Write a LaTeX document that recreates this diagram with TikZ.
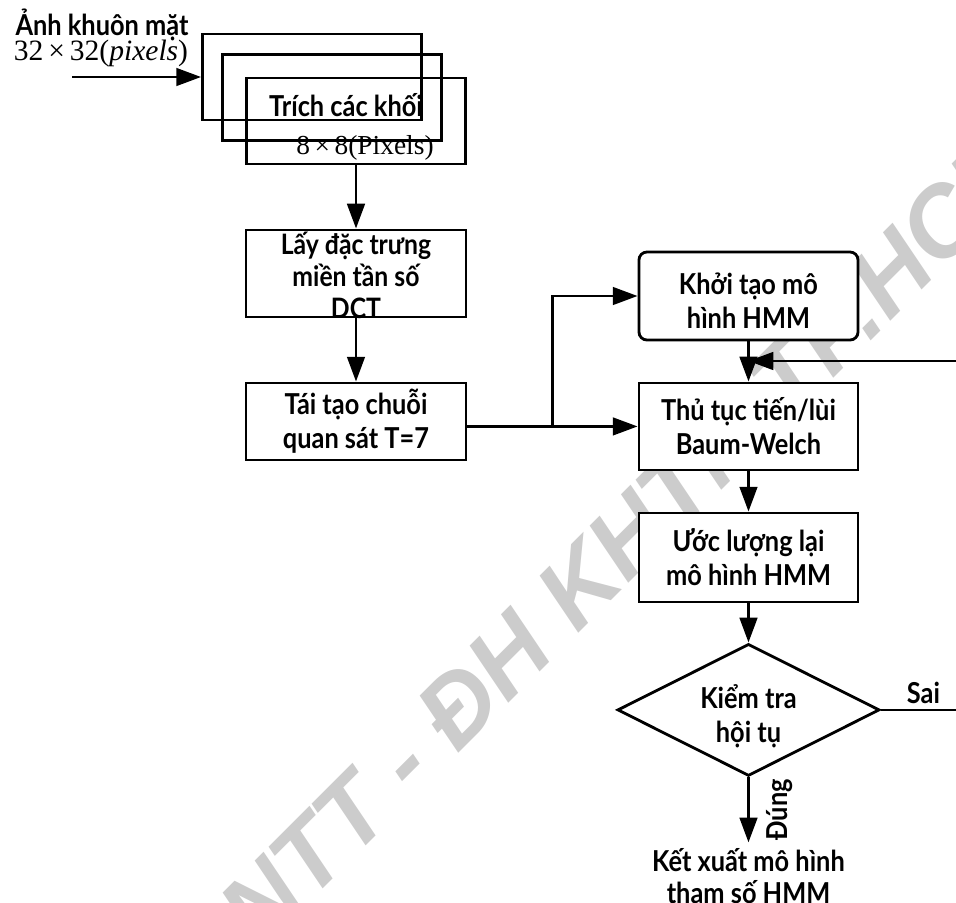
\documentclass[tikz,border=0pt]{standalone}
\usepackage{fontspec}
\setmainfont{Liberation Serif}
\newfontfamily\hmmfont[FakeStretch=0.88]{Lato}
\newfontfamily\wmfont{Liberation Sans}
\usetikzlibrary{arrows.meta,shapes.geometric,positioning}

\begin{document}
\begin{tikzpicture}[x=0.025cm,y=-0.025cm,
    font=\hmmfont\bfseries\fontsize{20.5}{24}\selectfont,
    line width=2pt,
    >={Triangle[length=0.62cm,width=0.44cm]},
    node distance=3.7cm,
    blk/.style={draw,minimum width=5.475cm,minimum height=2.15cm,inner sep=0pt},
    box/.style={draw,fill=white,align=center,inner sep=0pt,
      minimum width=5.5cm,minimum height=2.175cm},
    serif/.style={font=\rmfamily\fontsize{21}{24}\selectfont},
    wm/.style={text=black!20,font=\wmfont\bfseries\itshape\fontsize{70}{74}\selectfont}]
      \useasboundingbox (0,0) rectangle (956,903);
      \node[wm,rotate=45,anchor=base west] (w) at (256,956) {NTT - ĐH KHTN TP.HCM};

      % input image and the stacked 8x8 blocks
      \node (a) at (102,25) {Ảnh khuôn mặt};
      \node[serif] (b) at (101,53) {32\,×\,32(\textit{pixels})};
      \coordinate (0) at (72,77);
      \node[blk] (1) at (312,77) {};
      \node[blk] (2) at (332,97.5) {};
      \node[blk] (3) at (356,121) {};
      \node (c) at (346,105) {Trích các khối};
      \node[serif,font=\rmfamily\fontsize{19.5}{22}\selectfont] (d) at (365,148) {8\,×\,8(Pixels)};

      \node[box,below of=3,yshift=-0.11cm] (4) {};
      \node[align=center,font=\hmmfont\bfseries\fontsize{20}{22.5}\selectfont] (4t) at ([yshift=-0.05cm]4.center) {Lấy đặc trưng\\miền tần số\\DCT};
      \node[box,below of=4,minimum height=1.925cm] (5) {Tái tạo chuỗi\\quan sát T=7};

      % training loop
      \node[box,rounded corners=0.2cm,minimum width=5.475cm,minimum height=2.2cm] (6) at (748.5,296) {};
      \node[align=center] (6t) at ([yshift=-0.12cm]6.center) {Khởi tạo mô\\hình HMM};
      \node[box,below of=6,yshift=0.44cm,minimum width=5.475cm] (7) {Thủ tục tiến/lùi\\Baum-Welch};
      \node[box,below of=7,yshift=0.425cm,minimum width=5.475cm,minimum height=2.225cm] (8) {Ước lượng lại\\mô hình HMM};
      \node[draw,fill=white,diamond,aspect=2,align=center,inner sep=0pt,
        minimum width=6.55cm,minimum height=3.3cm,below of=8,yshift=-0.11cm] (9) {};
      \node[align=center] (9t) at ([yshift=-0.15cm]9.center) {Kiểm tra\\hội tụ};
      \node[align=center,below of=9,yshift=-0.45cm,font=\hmmfont\bfseries\fontsize{20.5}{22.5}\selectfont] (10) {Kết xuất mô hình\\tham số HMM};

      \coordinate (12) at (966,361);
      \coordinate (13) at (6.south |- 12);

      \draw[->] (0) -- (1);
      \draw[->] (3) -- (4);
      \draw[->] (4) -- (5);
      \draw[->] (5.east |- 7) -- coordinate[pos=0.5] (11) (7);
      \draw[->] (11) |- (6);
      \draw[->] (6) -- (7);
      \draw[->] (7) -- (8);
      \draw[->] (8) -- (9);
      \draw[->] (9) -- node[above] {Sai} (9 -| 12) -- (12) -- (13);
      \draw[->] (9) -- node[xshift=0.3cm,rotate=90,anchor=north] {Đúng} (10);
    \end{tikzpicture}
\end{document}
